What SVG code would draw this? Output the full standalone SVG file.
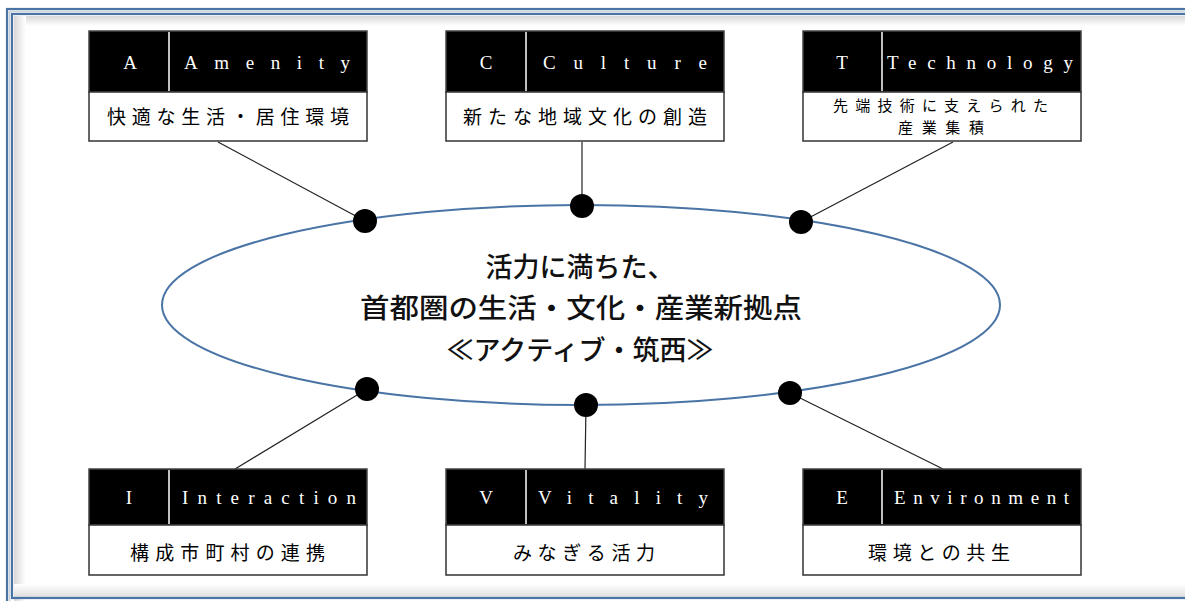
<svg xmlns="http://www.w3.org/2000/svg" width="1185" height="601" viewBox="0 0 1185 601">
<defs>
<style>
.hdr{fill:#000;stroke:#444;stroke-width:1.5}
.sub{fill:#fff;stroke:#333;stroke-width:1.5}
.div{stroke:#fff;stroke-width:1.5}
.en{font-family:"Liberation Serif","DejaVu Serif",serif;font-size:19px;fill:#fff}
.jp{font-family:"Noto Sans CJK JP","Noto Sans",sans-serif;font-size:19px;fill:#000}
.jps{font-family:"Noto Sans CJK JP","Noto Sans",sans-serif;font-size:15px;fill:#000}
.ctr{font-family:"Noto Sans CJK JP","Noto Sans",sans-serif;font-size:27px;font-weight:500;fill:#111;text-anchor:middle}
.con{stroke:#222;stroke-width:1.2;fill:none}
.dot{fill:#000}
</style>
<linearGradient id="shL" x1="0" x2="1" y1="0" y2="0"><stop offset="0" stop-color="#d8d8d8"/><stop offset="1" stop-color="#fff"/></linearGradient>
<linearGradient id="shT" x1="0" x2="0" y1="0" y2="1"><stop offset="0" stop-color="#d8d8d8"/><stop offset="1" stop-color="#fff"/></linearGradient>
<linearGradient id="shB" x1="0" x2="0" y1="1" y2="0"><stop offset="0" stop-color="#dcdcdc"/><stop offset="1" stop-color="#fff"/></linearGradient>
</defs>
<rect width="1185" height="601" fill="#fff"/>
<g id="frame">
<rect x="14" y="16" width="1180" height="10" fill="url(#shT)"/>
<rect x="14" y="16" width="12" height="590" fill="url(#shL)"/>
<rect x="14" y="584" width="1180" height="14" fill="url(#shB)"/>
<rect x="7" y="9" width="1190" height="600" fill="none" stroke="#4a74a6" stroke-width="2.2"/>
<rect x="12" y="14" width="1180" height="584" fill="none" stroke="#4a74a6" stroke-width="2.2"/>
<rect x="9.5" y="11.5" width="1185" height="592" fill="none" stroke="#c9d3de" stroke-width="2"/>
</g>
<g id="connectors">
<line class="con" x1="218" y1="142" x2="365" y2="221"/>
<line class="con" x1="582" y1="142" x2="582" y2="206"/>
<line class="con" x1="953" y1="142" x2="801" y2="222"/>
<line class="con" x1="367" y1="389" x2="235" y2="469"/>
<line class="con" x1="586" y1="405" x2="585" y2="469"/>
<line class="con" x1="790" y1="393" x2="943" y2="469"/>
</g>
<g id="center">
<ellipse cx="581" cy="305" rx="419" ry="100" fill="none" stroke="#4a74a6" stroke-width="2"/>
<text class="ctr" x="580" y="277">活力に満ちた、</text>
<text class="ctr" x="581" y="318" textLength="442" lengthAdjust="spacingAndGlyphs">首都圏の生活・文化・産業新拠点</text>
<text class="ctr" x="580" y="360">≪アクティブ・筑西≫</text>
</g>
<g id="dots">
<circle class="dot" cx="365" cy="221" r="12"/>
<circle class="dot" cx="582" cy="206" r="12"/>
<circle class="dot" cx="801" cy="222" r="12"/>
<circle class="dot" cx="367" cy="389" r="12"/>
<circle class="dot" cx="586" cy="405" r="12"/>
<circle class="dot" cx="790" cy="393" r="12"/>
</g>
<g id="node-A">
<rect class="hdr" x="89" y="31" width="278" height="61"/>
<line class="div" x1="169" y1="32" x2="169" y2="91"/>
<rect class="sub" x="89" y="92" width="278" height="49"/>
<text class="en" x="130" y="69" text-anchor="middle">A</text>
<text class="en" x="184" y="69" textLength="166" lengthAdjust="spacing">Amenity</text>
<text class="jp" x="107" y="124" textLength="242" lengthAdjust="spacing">快適な生活・居住環境</text>
</g>
<g id="node-C">
<rect class="hdr" x="446" y="31" width="278" height="61"/>
<line class="div" x1="526" y1="32" x2="526" y2="91"/>
<rect class="sub" x="446" y="92" width="278" height="49"/>
<text class="en" x="486" y="69" text-anchor="middle">C</text>
<text class="en" x="543" y="69" textLength="164" lengthAdjust="spacing">Culture</text>
<text class="jp" x="463" y="124" textLength="244" lengthAdjust="spacing">新たな地域文化の創造</text>
</g>
<g id="node-T">
<rect class="hdr" x="803" y="31" width="278" height="61"/>
<line class="div" x1="882" y1="32" x2="882" y2="91"/>
<rect class="sub" x="803" y="92" width="278" height="49"/>
<text class="en" x="842" y="69" text-anchor="middle">T</text>
<text class="en" x="887" y="69" textLength="186" lengthAdjust="spacing">Technology</text>
<text class="jps" x="833" y="111" textLength="215" lengthAdjust="spacing">先端技術に支えられた</text>
<text class="jps" x="898" y="133" textLength="86" lengthAdjust="spacing">産業集積</text>
</g>
<g id="node-I">
<rect class="hdr" x="89" y="469" width="278" height="56"/>
<line class="div" x1="169" y1="470" x2="169" y2="524"/>
<rect class="sub" x="89" y="525" width="278" height="50"/>
<text class="en" x="129" y="504" text-anchor="middle">I</text>
<text class="en" x="182" y="504" textLength="174" lengthAdjust="spacing">Interaction</text>
<text class="jp" x="130" y="560" textLength="195" lengthAdjust="spacing">構成市町村の連携</text>
</g>
<g id="node-V">
<rect class="hdr" x="446" y="469" width="278" height="56"/>
<line class="div" x1="526" y1="470" x2="526" y2="524"/>
<rect class="sub" x="446" y="525" width="278" height="50"/>
<text class="en" x="486" y="504" text-anchor="middle">V</text>
<text class="en" x="538" y="504" textLength="170" lengthAdjust="spacing">Vitality</text>
<text class="jp" x="513" y="560" textLength="142" lengthAdjust="spacing">みなぎる活力</text>
</g>
<g id="node-E">
<rect class="hdr" x="803" y="469" width="278" height="56"/>
<line class="div" x1="882" y1="470" x2="882" y2="524"/>
<rect class="sub" x="803" y="525" width="278" height="50"/>
<text class="en" x="842" y="504" text-anchor="middle">E</text>
<text class="en" x="894" y="504" textLength="175" lengthAdjust="spacing">Environment</text>
<text class="jp" x="868" y="560" textLength="142" lengthAdjust="spacing">環境との共生</text>
</g>
</svg>
